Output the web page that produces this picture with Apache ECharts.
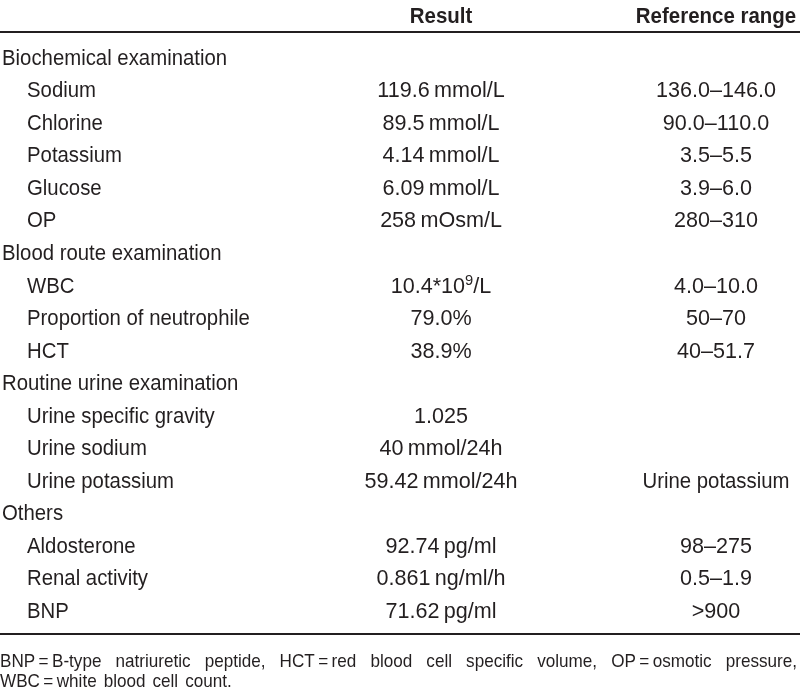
<!DOCTYPE html>
<html><head><meta charset="utf-8">
<script src="https://cdn.jsdelivr.net/npm/echarts@6/dist/echarts.min.js"></script>
<style>html,body{margin:0;padding:0;background:#fff}#c{width:800px;height:699px}</style>
</head><body><div id="c"></div>
<script>
// ---- data ----
const headers = ['Result', 'Reference range'];
const rowLabels = [
  'Biochemical examination', 'Sodium', 'Chlorine', 'Potassium', 'Glucose', 'OP',
  'Blood route examination', 'WBC', 'Proportion of neutrophile', 'HCT',
  'Routine urine examination', 'Urine specific gravity', 'Urine sodium', 'Urine potassium',
  'Others', 'Aldosterone', 'Renal activity', 'BNP'
];
const rowIsGroup = [true, false, false, false, false, false,
  true, false, false, false,
  true, false, false, false,
  true, false, false, false];
const resultValues = [
  '', '119.6\u2009mmol/L', '89.5\u2009mmol/L', '4.14\u2009mmol/L', '6.09\u2009mmol/L', '258\u2009mOsm/L',
  '', '10.4*10{sup|9}/L', '79.0%', '38.9%',
  '', '1.025', '40\u2009mmol/24h', '59.42\u2009mmol/24h',
  '', '92.74\u2009pg/ml', '0.861\u2009ng/ml/h', '71.62\u2009pg/ml'
];
const referenceRanges = [
  '', '136.0\u2013146.0', '90.0\u2013110.0', '3.5\u20135.5', '3.9\u20136.0', '280\u2013310',
  '', '4.0\u201310.0', '50\u201370', '40\u201351.7',
  '', '', '', 'Urine potassium',
  '', '98\u2013275', '0.5\u20131.9', '>900'
];
const footnoteLines = [
  ['BNP\u2009=\u2009B-type', 'natriuretic', 'peptide,', 'HCT\u2009=\u2009red', 'blood', 'cell', 'specific', 'volume,', 'OP\u2009=\u2009osmotic', 'pressure,'],
  ['WBC\u2009=\u2009white', 'blood', 'cell', 'count.']
];

// ---- layout ----
const FONT = "'Liberation Sans', Arial, sans-serif";
const FS = 22, LABEL_SX = 0.925, VALUE_SX = 0.98, HEAD_SX = 0.93, FOOT_FS = 19, FOOT_SX = 0.9, COLOR = '#231f20';
const X_LABEL_GROUP = 2, X_LABEL_ITEM = 27, X_RESULT = 441, X_REF = 716;

const chart = echarts.init(document.getElementById('c'), null, {renderer: 'canvas'});

function textSeries(texts, xFn, align, sx) {
  return {
    type: 'custom',
    coordinateSystem: 'cartesian2d',
    silent: true,
    data: texts.map((t, i) => [xFn(i), i]),
    encode: {x: 0, y: 1},
    renderItem: function (params, api) {
      const t = texts[params.dataIndex];
      if (!t) return null;
      const p = api.coord([api.value(0), api.value(1)]);
      const isWord = /^[A-Za-z ]+$/.test(t);
      return {
        type: 'text', x: p[0], y: p[1], scaleX: isWord ? LABEL_SX : sx,
        style: {
          text: t, x: 0, y: 0, fill: COLOR, align: align, verticalAlign: 'middle',
          fontFamily: FONT, fontSize: FS,
          rich: {
            sup: {fontSize: 15, fontFamily: FONT, fill: COLOR, verticalAlign: 'top', padding: [0, 0, 11, 0]}
          }
        }
      };
    }
  };
}

// footnote: first line justified to full width, computed from measured word widths
const ctx = document.createElement('canvas').getContext('2d');
ctx.font = FOOT_FS + "px " + FONT;
const footGraphics = [];
footnoteLines.forEach((words, li) => {
  const widths = words.map(w => ctx.measureText(w).width * FOOT_SX);
  const sum = widths.reduce((a, b) => a + b, 0);
  const gap = li === 0 ? (797 - sum) / (words.length - 1) : 7;
  let x = 0;
  const y = li === 0 ? 662 : 682;
  words.forEach((w, k) => {
    footGraphics.push({type: 'text', x: x, y: y, scaleX: FOOT_SX,
      style: {text: w, x: 0, y: 0, fill: COLOR, align: 'left', verticalAlign: 'middle', font: FOOT_FS + "px " + FONT}});
    x += widths[k] + gap;
  });
});

chart.setOption({
  animation: false,
  backgroundColor: '#fff',
  grid: {left: 0, right: 0, top: 42.5, bottom: 71, containLabel: false},
  xAxis: {type: 'value', min: 0, max: 800, show: false},
  yAxis: {type: 'category', data: rowLabels, inverse: true, show: false},
  series: [
    textSeries(rowLabels, i => rowIsGroup[i] ? X_LABEL_GROUP : X_LABEL_ITEM, 'left', LABEL_SX),
    textSeries(resultValues, () => X_RESULT, 'center', VALUE_SX),
    textSeries(referenceRanges, () => X_REF, 'center', VALUE_SX)
  ],
  graphic: [
    {type: 'text', x: X_RESULT, y: 17, scaleX: HEAD_SX, style: {text: headers[0], x: 0, y: 0, fill: COLOR, align: 'center', verticalAlign: 'middle', font: 'bold ' + FS + 'px ' + FONT}},
    {type: 'text', x: X_REF, y: 17, scaleX: HEAD_SX, style: {text: headers[1], x: 0, y: 0, fill: COLOR, align: 'center', verticalAlign: 'middle', font: 'bold ' + FS + 'px ' + FONT}},
    {type: 'rect', shape: {x: 0, y: 31, width: 800, height: 2}, style: {fill: COLOR}},
    {type: 'rect', shape: {x: 0, y: 633, width: 800, height: 2}, style: {fill: COLOR}}
  ].concat(footGraphics)
});
</script></body></html>
